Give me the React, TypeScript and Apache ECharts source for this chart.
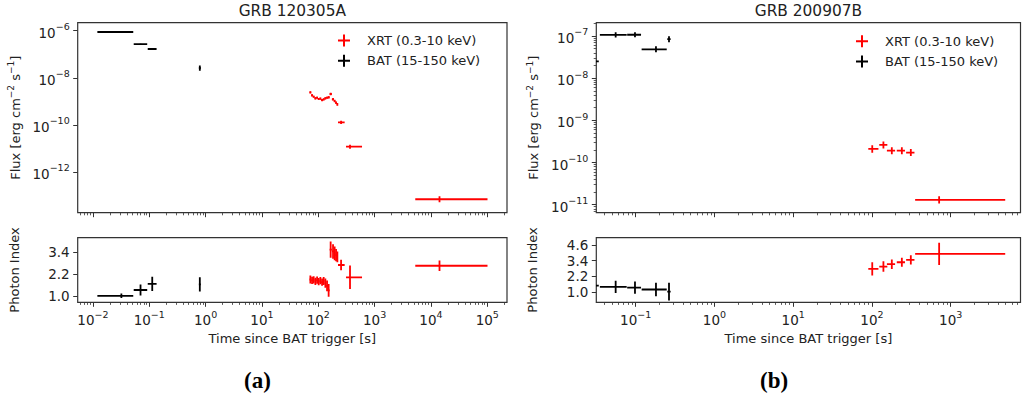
import React, { useEffect, useRef } from 'react';
import * as echarts from 'echarts';

// ---------- GRB 120305A ----------
const batA_t = [0.032, 0.070, 0.113, 0.79];
const batA_tLo = [0.012, 0.053, 0.094, 0.76];
const batA_tHi = [0.052, 0.092, 0.135, 0.82];
const batA_flux = [8.8e-7, 2.7e-7, 1.67e-7, 2.6e-8];
const batA_fluxLo = [8.5e-7, 2.6e-7, 1.55e-7, 2.0e-8];
const batA_fluxHi = [9.1e-7, 2.8e-7, 1.8e-7, 3.3e-8];
const batA_index = [1.0, 1.32, 1.66, 1.63];
const batA_indexErr = [0.12, 0.31, 0.39, 0.39];

const xrtA_t = [72.4, 77.6, 82.8, 88.9, 95.3, 101.6, 108.9, 116.8, 124.7, 133.6, 143.2, 152.8, 165.9, 182.9, 195.3, 206.9, 218.3, 254, 366, 14190];
const xrtA_tLo = [70.0, 75.0, 80.2, 85.8, 92.0, 98.4, 105.2, 112.8, 120.7, 129.1, 138.3, 147.9, 159.2, 174.2, 189.0, 201.0, 212.5, 224, 311, 5270];
const xrtA_tHi = [75.0, 80.2, 85.8, 92.0, 98.4, 105.2, 112.8, 120.7, 129.1, 138.3, 147.9, 159.2, 174.2, 189.0, 201.0, 212.5, 224, 294, 598, 100900];
const xrtA_flux = [2.42e-9, 1.81e-9, 1.57e-9, 1.35e-9, 1.43e-9, 1.26e-9, 1.30e-9, 1.14e-9, 1.22e-9, 1.35e-9, 1.43e-9, 1.49e-9, 2.05e-9, 1.22e-9, 1.03e-9, 8.77e-10, 7.50e-10, 1.29e-10, 1.19e-11, 6.93e-14];
const xrtA_fluxLo = [2.15e-9, 1.62e-9, 1.41e-9, 1.21e-9, 1.28e-9, 1.13e-9, 1.16e-9, 1.02e-9, 1.09e-9, 1.21e-9, 1.28e-9, 1.33e-9, 1.82e-9, 1.08e-9, 0.91e-9, 7.7e-10, 6.5e-10, 1.10e-10, 0.98e-11, 5.2e-14];
const xrtA_fluxHi = [2.70e-9, 2.00e-9, 1.74e-9, 1.50e-9, 1.58e-9, 1.40e-9, 1.44e-9, 1.27e-9, 1.35e-9, 1.50e-9, 1.58e-9, 1.65e-9, 2.30e-9, 1.37e-9, 1.16e-9, 9.9e-10, 8.6e-10, 1.50e-10, 1.42e-11, 9.2e-14];
const xrtA_index = [1.90, 1.85, 1.88, 1.80, 1.86, 1.78, 1.84, 1.75, 1.82, 1.70, 1.55, 1.30, 3.55, 3.45, 3.35, 3.25, 3.15, 2.70, 2.02, 2.66];
const xrtA_indexErr = [0.22, 0.2, 0.2, 0.2, 0.2, 0.2, 0.2, 0.2, 0.22, 0.25, 0.3, 0.35, 0.45, 0.4, 0.38, 0.34, 0.3, 0.29, 0.65, 0.29];

// ---------- GRB 200907B ----------
const batB_t = [0.028, 0.0557, 0.098, 0.181, 0.265];
const batB_tLo = [0.022, 0.0351, 0.078, 0.119, 0.252];
const batB_tHi = [0.034, 0.0769, 0.117, 0.248, 0.278];
const batB_flux = [2.5e-8, 1.06e-7, 1.07e-7, 4.84e-8, 8.4e-8];
const batB_fluxLo = [2.3e-8, 0.92e-7, 0.93e-7, 4.1e-8, 7.1e-8];
const batB_fluxHi = [2.7e-8, 1.22e-7, 1.23e-7, 5.7e-8, 9.8e-8];
const batB_index = [1.48, 1.38, 1.33, 1.18, 1.02];
const batB_indexErr = [0.5, 0.47, 0.47, 0.51, 0.68];

const xrtB_t = [101, 140, 179, 240, 312, 714];
const xrtB_tLo = [90, 124, 155, 207, 272, 354];
const xrtB_tHi = [121, 157, 197, 263, 347, 4930];
const xrtB_flux = [2.10e-10, 2.61e-10, 1.91e-10, 1.91e-10, 1.72e-10, 1.30e-11];
const xrtB_fluxLo = [1.70e-10, 2.15e-10, 1.58e-10, 1.58e-10, 1.42e-10, 1.07e-11];
const xrtB_fluxHi = [2.55e-10, 3.15e-10, 2.30e-10, 2.30e-10, 2.08e-10, 1.59e-11];
const xrtB_index = [2.76, 2.94, 3.12, 3.27, 3.45, 3.91];
const xrtB_indexErr = [0.51, 0.4, 0.36, 0.35, 0.35, 0.86];

// ---------- labels ----------
const titles = ['GRB 120305A', 'GRB 200907B'];
const panelTags = ['(a)', '(b)'];
const xrtName = 'XRT (0.3-10 keV)';
const batName = 'BAT (15-150 keV)';
const xLabel = 'Time since BAT trigger [s]';
const indexLabel = 'Photon Index';
const indexTicksA = [1.0, 2.2, 3.4];
const indexTicksB = [1.0, 2.2, 3.4, 4.6];

const FONT = 'DejaVu Sans';
const TXT = '#222';
const RED = '#ff0000';
const BLACK = '#000000';

function fluxRows(t: number[], tLo: number[], tHi: number[], f: number[], fLo: number[], fHi: number[]) {
  return t.map((v, i) => [v, f[i], tLo[i], tHi[i], fLo[i], fHi[i]]);
}
function idxRows(t: number[], tLo: number[], tHi: number[], p: number[], e: number[]) {
  return t.map((v, i) => [v, p[i], tLo[i], tHi[i], p[i] - e[i], p[i] + e[i]]);
}

function decades(lo: number, hi: number, step = 1) {
  const out: number[] = [];
  for (let e = lo; e <= hi; e += step) out.push(Number(`1e${e}`));
  return out;
}
function minors(lo: number, hi: number, min: number, max: number) {
  const out: number[] = [];
  for (let e = lo; e <= hi; e++) {
    for (let k = 2; k <= 9; k++) {
      const v = Number(`${k}e${e}`);
      if (v >= min && v <= max) out.push(v);
    }
  }
  return out;
}

const powLabel = (v: number) => {
  const e = Math.round(Math.log10(v));
  return `{b|10}{s|${e < 0 ? '\u2212' : ''}${Math.abs(e)}}`;
};
const richPow = {
  b: { fontFamily: FONT, fontSize: 13.5, color: TXT, lineHeight: 18, verticalAlign: 'bottom' },
  s: { fontFamily: FONT, fontSize: 9.5, color: TXT, lineHeight: 10, verticalAlign: 'top' },
};

const renderErr = (params: any, api: any) => {
  const x = api.value(0);
  const y = api.value(1);
  const a = api.coord([api.value(2), y]);
  const b = api.coord([api.value(3), y]);
  const c = api.coord([x, api.value(4)]);
  const d = api.coord([x, api.value(5)]);
  const color = api.visual('color');
  const st = { stroke: color, lineWidth: 1.8 };
  return {
    type: 'group',
    children: [
      { type: 'line', shape: { x1: a[0], y1: a[1], x2: b[0], y2: b[1] }, style: st },
      { type: 'line', shape: { x1: c[0], y1: c[1], x2: d[0], y2: d[1] }, style: st },
    ],
  };
};

const plusIcon = 'path://M5,0H7V5H12V7H7V12H5V7H0V5H5Z';

export default function App() {
  const ref = useRef<HTMLDivElement>(null);
  useEffect(() => {
    if (!ref.current) return;
    const chart = echarts.init(ref.current, null, { renderer: 'svg' });

    const aX = [Math.pow(10, -2.27), Math.pow(10, 5.35)];
    const bX = [Math.pow(10, -1.5), Math.pow(10, 3.887)];
    const aY = [Math.pow(10, -13.73), Math.pow(10, -5.66)];
    const bY = [Math.pow(10, -11.19), Math.pow(10, -6.685)];

    const gA = { left: 77.7, width: 429.3 };
    const gB = { left: 596.3, width: 424.2 };
    const topT = 22.7, topH = 190, botT = 237.7, botH = 64.6;

    const grid = [
      { ...gA, top: topT, height: topH },
      { ...gA, top: botT, height: botH },
      { ...gB, top: topT, height: topH },
      { ...gB, top: botT, height: botH },
    ].map((g) => ({ ...g, show: true, borderColor: '#333', borderWidth: 1.2, backgroundColor: 'transparent', containLabel: false }));

    const majTick = { show: true, length: 4.5, lineStyle: { color: '#333', width: 1 } };
    const minTick = { show: true, length: 2.6, lineStyle: { color: '#333', width: 0.8 } };

    const logX = (gridIndex: number, ext: number[], ticks: number[], labels: boolean, name?: string) => ({
      type: 'log', logBase: 10, gridIndex, min: ext[0], max: ext[1], position: 'bottom',
      axisLine: { show: false }, splitLine: { show: false },
      axisTick: { ...majTick, customValues: ticks },
      axisLabel: labels
        ? { show: true, customValues: ticks, formatter: powLabel, rich: richPow, margin: 7 }
        : { show: false },
      name: name || '', nameLocation: 'middle', nameGap: 30,
      nameTextStyle: { fontFamily: FONT, fontSize: 13, color: TXT },
    });
    const minorX = (gridIndex: number, ext: number[], ticks: number[]) => ({
      type: 'log', logBase: 10, gridIndex, min: ext[0], max: ext[1], position: 'bottom',
      axisLine: { show: false }, splitLine: { show: false }, axisLabel: { show: false },
      axisTick: { ...minTick, customValues: ticks },
    });

    const fluxName = 'Flux [erg cm{s|\u22122} s{s|\u22121}]';
    const logY = (gridIndex: number, ext: number[], ticks: number[]) => ({
      type: 'log', logBase: 10, gridIndex, min: ext[0], max: ext[1], position: 'left',
      axisLine: { show: false }, splitLine: { show: false },
      axisTick: { ...majTick, customValues: ticks },
      axisLabel: { show: true, customValues: ticks, formatter: powLabel, rich: richPow, margin: 8 },
      name: fluxName, nameLocation: 'middle', nameGap: 54,
      nameTextStyle: {
        fontFamily: FONT, fontSize: 13, color: TXT,
        rich: {
          s: { fontFamily: FONT, fontSize: 9, color: TXT, lineHeight: 9, verticalAlign: 'top' },
        },
        lineHeight: 17,
      },
    });
    const minorY = (gridIndex: number, ext: number[], ticks: number[]) => ({
      type: 'log', logBase: 10, gridIndex, min: ext[0], max: ext[1], position: 'left',
      axisLine: { show: false }, splitLine: { show: false }, axisLabel: { show: false },
      axisTick: { ...minTick, customValues: ticks },
    });
    const idxY = (gridIndex: number, ext: number[], ticks: number[]) => ({
      type: 'value', gridIndex, min: ext[0], max: ext[1], position: 'left',
      axisLine: { show: false }, splitLine: { show: false },
      axisTick: { ...majTick, customValues: ticks },
      axisLabel: {
        show: true, customValues: ticks, formatter: (v: number) => v.toFixed(1),
        fontFamily: FONT, fontSize: 13.5, color: TXT, margin: 8,
      },
      name: indexLabel, nameLocation: 'middle', nameGap: 57,
      nameTextStyle: { fontFamily: FONT, fontSize: 13, color: TXT },
    });

    const xAxis = [
      logX(0, aX, decades(-2, 5), false),
      minorX(0, aX, minors(-3, 5, aX[0], aX[1])),
      logX(1, aX, decades(-2, 5), true, xLabel),
      minorX(1, aX, minors(-3, 5, aX[0], aX[1])),
      logX(2, bX, decades(-1, 3), false),
      minorX(2, bX, minors(-2, 3, bX[0], bX[1])),
      logX(3, bX, decades(-1, 3), true, xLabel),
      minorX(3, bX, minors(-2, 3, bX[0], bX[1])),
    ];
    const yAxis = [
      logY(0, aY, decades(-12, -6, 2)),
      idxY(1, [0.64, 4.21], indexTicksA),
      logY(2, bY, decades(-11, -7)),
      minorY(2, bY, minors(-12, -7, bY[0], bY[1])),
      idxY(3, [0.2, 5.15], indexTicksB),
    ];

    const mk = (name: string, color: string, xi: number, yi: number, data: number[][]) => ({
      type: 'custom', name, xAxisIndex: xi, yAxisIndex: yi, clip: true,
      itemStyle: { color }, renderItem: renderErr,
      encode: { x: 0, y: 1 }, data,
    });

    const series = [
      mk(xrtName, RED, 0, 0, fluxRows(xrtA_t, xrtA_tLo, xrtA_tHi, xrtA_flux, xrtA_fluxLo, xrtA_fluxHi)),
      mk(batName, BLACK, 0, 0, fluxRows(batA_t, batA_tLo, batA_tHi, batA_flux, batA_fluxLo, batA_fluxHi)),
      mk(xrtName, RED, 2, 1, idxRows(xrtA_t, xrtA_tLo, xrtA_tHi, xrtA_index, xrtA_indexErr)),
      mk(batName, BLACK, 2, 1, idxRows(batA_t, batA_tLo, batA_tHi, batA_index, batA_indexErr)),
      mk(xrtName, RED, 4, 2, fluxRows(xrtB_t, xrtB_tLo, xrtB_tHi, xrtB_flux, xrtB_fluxLo, xrtB_fluxHi)),
      mk(batName, BLACK, 4, 2, fluxRows(batB_t, batB_tLo, batB_tHi, batB_flux, batB_fluxLo, batB_fluxHi)),
      mk(xrtName, RED, 6, 4, idxRows(xrtB_t, xrtB_tLo, xrtB_tHi, xrtB_index, xrtB_indexErr)),
      mk(batName, BLACK, 6, 4, idxRows(batB_t, batB_tLo, batB_tHi, batB_index, batB_indexErr)),
    ];

    const legendBase = {
      orient: 'vertical', data: [xrtName, batName], icon: plusIcon,
      itemWidth: 36, itemHeight: 12, itemGap: 7.3, padding: 0, selectedMode: false,
      textStyle: { fontFamily: FONT, fontSize: 13, color: TXT },
    };

    chart.setOption({
      animation: false,
      backgroundColor: '#ffffff',
      title: [
        { text: titles[0], left: 292.3, top: 3, textAlign: 'center', padding: 0,
          textStyle: { fontFamily: FONT, fontSize: 15.4, fontWeight: 'normal', color: TXT } },
        { text: titles[1], left: 808.4, top: 3, textAlign: 'center', padding: 0,
          textStyle: { fontFamily: FONT, fontSize: 15.4, fontWeight: 'normal', color: TXT } },
      ],
      legend: [
        { ...legendBase, left: 338, top: 34 },
        { ...legendBase, left: 856, top: 34.7 },
      ],
      grid, xAxis, yAxis, series,
      graphic: [
        { type: 'text', left: 244, top: 369, style: { text: panelTags[0], fontFamily: 'Liberation Serif', fontWeight: 'bold', fontSize: 23, fill: '#000' } },
        { type: 'text', left: 760, top: 369, style: { text: panelTags[1], fontFamily: 'Liberation Serif', fontWeight: 'bold', fontSize: 23, fill: '#000' } },
      ],
    });
    return () => chart.dispose();
  }, []);
  return <div ref={ref} style={{ position: 'absolute', left: 0, top: 0, width: 1022, height: 402 }} />;
}
